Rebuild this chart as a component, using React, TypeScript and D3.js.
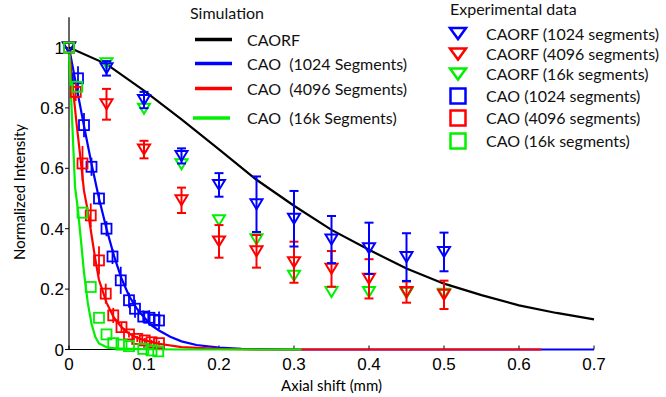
import { useEffect, useRef } from 'react';
import * as d3 from 'd3';

// simulation curves
const caorfSimX = [0, 0.05, 0.1, 0.15, 0.2, 0.25, 0.3, 0.35, 0.4, 0.45, 0.5, 0.55, 0.6, 0.65, 0.7];
const caorfSimY = [1.0, 0.945, 0.857, 0.762, 0.663, 0.562, 0.476, 0.396, 0.33, 0.268, 0.218, 0.18, 0.146, 0.121, 0.1];

const cao1024SimX = [0, 0.01, 0.02, 0.03, 0.04, 0.05, 0.06, 0.07, 0.08, 0.09, 0.1, 0.11, 0.12, 0.135, 0.15, 0.17, 0.2, 0.23, 0.26, 0.3, 0.4, 0.5, 0.6, 0.7];
const cao1024SimY = [1.0, 0.87, 0.74, 0.615, 0.5, 0.4, 0.31, 0.235, 0.178, 0.137, 0.107, 0.08, 0.063, 0.042, 0.027, 0.015, 0.006, 0.002, 0.001, 0, 0, 0, 0, 0];

const cao4096SimX = [0, 0.005, 0.01, 0.015, 0.02, 0.025, 0.03, 0.035, 0.04, 0.05, 0.06, 0.07, 0.08, 0.09, 0.1, 0.12, 0.15, 0.2, 0.25, 0.3, 0.4, 0.5, 0.63];
const cao4096SimY = [1.0, 0.87, 0.75, 0.64, 0.525, 0.46, 0.38, 0.3, 0.23, 0.155, 0.105, 0.074, 0.053, 0.04, 0.031, 0.019, 0.008, 0.002, 0, 0, 0, 0, 0];

const cao16kSimX = [0, 0.004, 0.008, 0.012, 0.016, 0.02, 0.025, 0.03, 0.035, 0.04, 0.05, 0.06, 0.08, 0.1, 0.15, 0.2, 0.31];
const cao16kSimY = [1.0, 0.77, 0.54, 0.46, 0.36, 0.255, 0.155, 0.085, 0.042, 0.02, 0.008, 0.004, 0.002, 0.001, 0, 0, 0];

// experimental CAORF (triangles)
const triX = [0, 0.05, 0.1, 0.15, 0.2, 0.25, 0.3, 0.35, 0.4, 0.45, 0.5];
const caorf1024Y = [1.0, 0.931, 0.826, 0.641, 0.545, 0.481, 0.433, 0.364, 0.335, 0.306, 0.323];
const caorf1024Err = [0, 0.024, 0.027, 0.025, 0.039, 0.092, 0.092, 0.078, 0.085, 0.079, 0.064];
const caorf4096Y = [1.0, 0.812, 0.662, 0.494, 0.358, 0.325, 0.289, 0.267, 0.234, 0.19, 0.181];
const caorf4096Err = [0, 0.051, 0.029, 0.042, 0.054, 0.054, 0.068, 0.059, 0.065, 0.035, 0.047];
const caorf16kY = [1.0, 0.948, 0.797, 0.613, 0.428, 0.365, 0.244, 0.19, 0.19, 0.187, 0.185];

// experimental CAO (squares)
const cao1024X = [0, 0.012, 0.02, 0.03, 0.04, 0.05, 0.058, 0.069, 0.08, 0.088, 0.099, 0.107, 0.114, 0.12];
const cao1024Y = [1.0, 0.898, 0.743, 0.605, 0.5, 0.4, 0.308, 0.229, 0.163, 0.135, 0.109, 0.105, 0.098, 0.096];
const cao1024Err = [0, 0.04, 0.04, 0.03, 0.02, 0.025, 0.025, 0.045, 0.025, 0.03, 0.02, 0.025, 0.025, 0.03];
const cao4096X = [0, 0.009, 0.018, 0.029, 0.04, 0.049, 0.059, 0.07, 0.08, 0.091, 0.101, 0.11, 0.12];
const cao4096Y = [1.0, 0.853, 0.616, 0.444, 0.295, 0.185, 0.113, 0.074, 0.05, 0.035, 0.03, 0.024, 0.021];
const cao4096Err = [0, 0.03, 0.058, 0.04, 0.047, 0.033, 0.025, 0.017, 0.01, 0.01, 0.008, 0.008, 0.008];
const cao16kX = [0, 0.011, 0.018, 0.029, 0.04, 0.05, 0.059, 0.07, 0.08, 0.099, 0.11, 0.119];
const cao16kY = [1.0, 0.87, 0.453, 0.207, 0.105, 0.05, 0.021, 0.016, 0.011, 0.002, -0.003, -0.006];

const xTicks = [0, 0.1, 0.2, 0.3, 0.4, 0.5, 0.6, 0.7];
const yTicks = [0, 0.2, 0.4, 0.6, 0.8, 1];

const simLegend = ['CAORF', 'CAO  (1024 Segments)', 'CAO  (4096 Segments)', 'CAO  (16k Segments)'];
const expLegend = ['CAORF (1024 segments)', 'CAORF (4096 segments)', 'CAORF (16k segments)',
    'CAO (1024 segments)', 'CAO (4096 segments)', 'CAO (16k segments)'];

const BLUE = '#0000ff';
const RED = '#ff0000';
const GREEN = '#00f000';
const LEGEND_FONT = 'Lato, sans-serif';
const TICK_FONT = '"Liberation Sans", Arial, sans-serif';

export default function App() {
    const svgRef = useRef<SVGSVGElement>(null);

    useEffect(() => {
        const svg = d3.select(svgRef.current);
        svg.selectAll('*').remove();

        const x = d3.scaleLinear().domain([0, 0.7]).range([69, 594]);
        const y = d3.scaleLinear().domain([0, 1.1]).range([349.5, 17.3]);

        // axes
        svg.append('line').attr('x1', x(0)).attr('x2', x(0.7)).attr('y1', y(0)).attr('y2', y(0))
            .attr('stroke', '#000').attr('stroke-width', 1.2);
        svg.append('line').attr('x1', x(0)).attr('x2', x(0)).attr('y1', y(0)).attr('y2', y(1.1))
            .attr('stroke', '#000').attr('stroke-width', 1.2);

        svg.selectAll('.xtick').data(xTicks).enter().append('line')
            .attr('x1', d => x(d)).attr('x2', d => x(d))
            .attr('y1', y(0)).attr('y2', y(0) - 4)
            .attr('stroke', '#000').attr('stroke-width', 1);
        svg.selectAll('.xlab').data(xTicks).enter().append('text')
            .attr('x', d => x(d)).attr('y', 370)
            .attr('text-anchor', 'middle')
            .style('font-family', TICK_FONT).style('font-size', '17px')
            .text(d => d === 0 ? '0' : d3.format('.1f')(d));

        svg.selectAll('.ytick').data(yTicks).enter().append('line')
            .attr('x1', x(0) - 4).attr('x2', x(0))
            .attr('y1', d => y(d)).attr('y2', d => y(d))
            .attr('stroke', '#000').attr('stroke-width', 1);
        svg.selectAll('.ylab').data(yTicks).enter().append('text')
            .attr('x', 64).attr('y', d => y(d) + 6)
            .attr('text-anchor', 'end')
            .style('font-family', TICK_FONT).style('font-size', '17px')
            .text(d => d === 0 || d === 1 ? String(d) : d3.format('.1f')(d));

        svg.append('text')
            .attr('x', (x(0) + x(0.7)) / 2).attr('y', 391)
            .attr('text-anchor', 'middle')
            .style('font-family', LEGEND_FONT).style('font-size', '15px')
            .text('Axial shift (mm)');
        svg.append('text')
            .attr('transform', 'translate(25,192) rotate(-90)')
            .attr('text-anchor', 'middle')
            .style('font-family', LEGEND_FONT).style('font-size', '15px')
            .text('Normalized Intensity');

        // simulation curves
        const sims = [
            { xs: cao1024SimX, ys: cao1024SimY, color: BLUE },
            { xs: cao4096SimX, ys: cao4096SimY, color: RED },
            { xs: cao16kSimX, ys: cao16kSimY, color: GREEN },
            { xs: caorfSimX, ys: caorfSimY, color: '#000' },
        ];
        const line = d3.line<[number, number]>().x(d => x(d[0])).y(d => y(d[1]));
        sims.forEach(s => {
            svg.append('path')
                .datum(s.xs.map((v, i) => [v, s.ys[i]] as [number, number]))
                .attr('fill', 'none')
                .attr('stroke', s.color)
                .attr('stroke-width', 2.2)
                .attr('d', line);
        });

        // triangles with error bars
        const tri = (cx: number, cy: number, w: number, h: number) =>
            `M${cx - w / 2},${cy - h / 2}L${cx + w / 2},${cy - h / 2}L${cx},${cy + h / 2}Z`;

        const triSets = [
            { ys: caorf16kY, err: null as number[] | null, color: GREEN },
            { ys: caorf4096Y, err: caorf4096Err, color: RED },
            { ys: caorf1024Y, err: caorf1024Err, color: BLUE },
        ];
        triSets.forEach(s => {
            const g = svg.append('g');
            if (s.err) {
                const err = s.err;
                triX.forEach((v, i) => {
                    if (!err[i]) return;
                    const cx = x(v);
                    const y1 = y(s.ys[i] + err[i]);
                    const y2 = y(s.ys[i] - err[i]);
                    g.append('line').attr('x1', cx).attr('x2', cx).attr('y1', y1).attr('y2', y2)
                        .attr('stroke', s.color).attr('stroke-width', 2);
                    [y1, y2].forEach(yy => g.append('line')
                        .attr('x1', cx - 4.5).attr('x2', cx + 4.5).attr('y1', yy).attr('y2', yy)
                        .attr('stroke', s.color).attr('stroke-width', 2));
                });
            }
            g.selectAll('path').data(triX).enter().append('path')
                .attr('d', (v, i) => tri(x(v), y(s.ys[i]), 12, 10))
                .attr('fill', 'none').attr('stroke', s.color).attr('stroke-width', 2);
        });

        // squares with error bars
        const sqSets = [
            { xs: cao1024X, ys: cao1024Y, err: cao1024Err as number[] | null, color: BLUE },
            { xs: cao4096X, ys: cao4096Y, err: cao4096Err as number[] | null, color: RED },
            { xs: cao16kX, ys: cao16kY, err: null as number[] | null, color: GREEN },
        ];
        sqSets.forEach(s => {
            const g = svg.append('g');
            if (s.err) {
                const err = s.err;
                s.xs.forEach((v, i) => {
                    if (!err[i]) return;
                    g.append('line').attr('x1', x(v)).attr('x2', x(v))
                        .attr('y1', y(s.ys[i] + err[i])).attr('y2', y(s.ys[i] - err[i]))
                        .attr('stroke', s.color).attr('stroke-width', 1.8);
                });
            }
            g.selectAll('rect').data(s.xs).enter().append('rect')
                .attr('x', v => x(v) - 5).attr('y', (v, i) => y(s.ys[i]) - 5)
                .attr('width', 10).attr('height', 10)
                .attr('fill', 'none').attr('stroke', s.color).attr('stroke-width', 1.8);
        });

        // simulation legend
        svg.append('text').attr('x', 190).attr('y', 19)
            .style('font-family', LEGEND_FONT).style('font-size', '16px').style('fill', '#111')
            .text('Simulation');
        const simColors = ['#000', BLUE, RED, GREEN];
        const simRows = [39.5, 63.5, 88.5, 118];
        simLegend.forEach((label, i) => {
            const x0 = i === 3 ? 193 : 195;
            svg.append('line').attr('x1', x0).attr('x2', x0 + 37)
                .attr('y1', simRows[i]).attr('y2', simRows[i])
                .attr('stroke', simColors[i]).attr('stroke-width', 3.5);
            svg.append('text').attr('x', 247).attr('y', simRows[i] + 6)
                .style('font-family', LEGEND_FONT).style('font-size', '16px').style('fill', '#111')
                .style('white-space', 'pre')
                .text(label);
        });

        // experimental legend
        svg.append('text').attr('x', 450).attr('y', 15)
            .style('font-family', LEGEND_FONT).style('font-size', '16px').style('fill', '#111')
            .text('Experimental data');
        const expColors = [BLUE, RED, GREEN, BLUE, RED, GREEN];
        const expRows = [33.5, 54, 74, 96, 118, 141];
        expLegend.forEach((label, i) => {
            const cy = expRows[i];
            if (i < 3) {
                svg.append('path').attr('d', tri(458, cy, 16, 11))
                    .attr('fill', 'none').attr('stroke', expColors[i]).attr('stroke-width', 2.5);
            } else {
                svg.append('rect').attr('x', 450.5).attr('y', cy - 7.5).attr('width', 15).attr('height', 15)
                    .attr('fill', 'none').attr('stroke', expColors[i]).attr('stroke-width', 2.5);
            }
            svg.append('text').attr('x', 486).attr('y', cy + 6)
                .style('font-family', LEGEND_FONT).style('font-size', '16px').style('fill', '#111')
                .text(label);
        });
    }, []);

    return (
        <svg ref={svgRef} width={666} height={397}
            style={{ position: 'absolute', left: 0, top: 0, background: '#fff' }} />
    );
}
